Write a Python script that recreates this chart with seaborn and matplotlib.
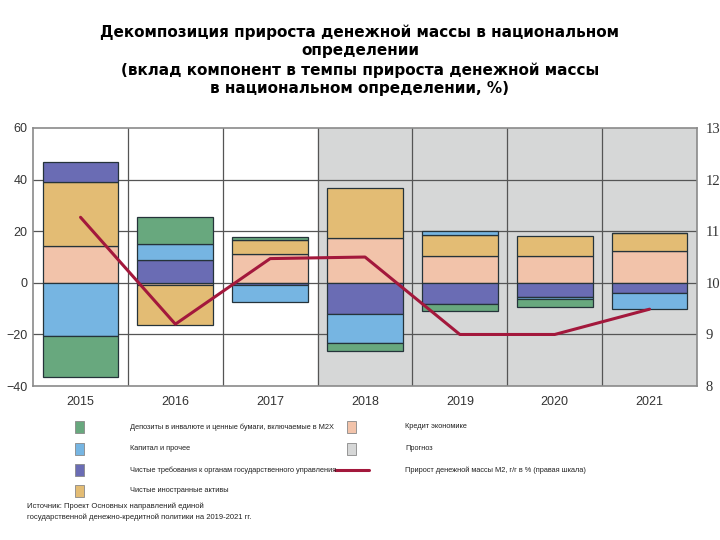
import numpy as np
import pandas as pd
import seaborn as sns
import matplotlib.pyplot as plt
from matplotlib.patches import Rectangle
from matplotlib.lines import Line2D

sns.set_theme(style='white')
plt.rcParams['font.family'] = ['Liberation Sans', 'DejaVu Sans']

years = ['2015', '2016', '2017', '2018', '2019', '2020', '2021']
forecast_from = '2018'

# components, stacked in this order
credit = [14.2, -0.9, 11.2, 17.4, 10.5, 10.5, 12.4]     # Кредит экономике
nfa = [24.8, -15.6, 5.3, 19.4, 8.1, 7.7, 7.0]           # Чистые иностранные активы
gov = [8.0, 8.9, -0.9, -12.0, -8.1, -5.5, -4.0]         # Чистые требования к органам гос. управления
capital = [-20.6, 6.2, -6.5, -11.2, 1.3, -0.8, -6.2]    # Капитал и прочее
deposits = [-15.8, 10.3, 1.2, -3.3, -2.7, -3.1, 0.0]    # Депозиты в инвалюте ...
m2_growth = [11.27, 9.2, 10.47, 10.5, 9.0, 9.0, 9.49]   # Прирост M2, % (правая шкала)

components = [
    ('Кредит экономике', credit, '#f2c3aa'),
    ('Чистые иностранные активы', nfa, '#e3bc74'),
    ('Чистые требования к органам государственного управления', gov, '#6a6cb4'),
    ('Капитал и прочее', capital, '#76b5e2'),
    ('Депозиты в инвалюте и ценные бумаги, включаемые в М2Х', deposits, '#68a87e'),
]
line_color = '#a3183c'
grid_color = '#555555'
shade_color = '#d6d7d7'

fig = plt.figure(figsize=(7.2, 5.4), dpi=100)
ax = fig.add_axes([0.046, 0.285, 0.922, 0.478])

# forecast shading
idx0 = years.index(forecast_from)
ax.axvspan(idx0 - 0.5, len(years) - 0.5, color=shade_color, zorder=0)

pos_bottom = np.zeros(len(years))
neg_bottom = np.zeros(len(years))
for name, vals, color in components:
    vals = np.array(vals)
    bottom = np.where(vals >= 0, pos_bottom, neg_bottom)
    sns.barplot(x=years, y=vals, bottom=bottom, color=color, width=0.8,
                edgecolor='#25333a', linewidth=0.9, saturation=1, ax=ax, zorder=3)
    pos_bottom += np.where(vals >= 0, vals, 0)
    neg_bottom += np.where(vals < 0, vals, 0)

ax.set_xlim(-0.5, len(years) - 0.5)
ax.set_ylim(-40, 60)
ax.set_yticks(np.arange(-40, 61, 20))
for yv in np.arange(-20, 60, 20):
    ax.axhline(yv, color=grid_color, lw=0.9, zorder=1)
for i in range(1, len(years)):
    ax.axvline(i - 0.5, color=grid_color, lw=0.9, zorder=1)
for s in ax.spines.values():
    s.set_color('#8a8a8a')
    s.set_linewidth(1.2)
ax.tick_params(axis='both', length=0, labelsize=9, colors='#333333')
ax.tick_params(axis='x', pad=7)
ax.tick_params(axis='y', pad=4)
ax.set_xlabel('')

ax2 = ax.twinx()
sns.lineplot(x=np.arange(len(years)), y=m2_growth, color=line_color, lw=2.2, ax=ax2, zorder=5)
ax2.set_ylim(8, 13)
ax2.set_yticks(np.arange(8, 14, 1))
ax2.tick_params(axis='y', length=0, labelsize=10.5, colors='#333333', pad=6)
for lab in ax2.get_yticklabels():
    lab.set_family('Liberation Serif')
for s in ax2.spines.values():
    s.set_visible(False)

fig.text(0.5, 0.955, 'Декомпозиция прироста денежной массы в национальном\nопределении\n'
         '(вклад компонент в темпы прироста денежной массы\nв национальном определении, %)',
         ha='center', va='top', fontsize=11, fontweight='bold', family='DejaVu Sans',
         linespacing=1.3, color='black')

# legend (hand-laid like the original)
legend_left = [
    ('Депозиты в инвалюте и ценные бумаги, включаемые в М2Х', components[4][2]),
    ('Капитал и прочее', components[3][2]),
    ('Чистые требования к органам государственного управления', components[2][2]),
    ('Чистые иностранные активы', components[1][2]),
]
legend_right = [
    ('Кредит экономике', components[0][2]),
    ('Прогноз', shade_color),
]
row_y = [1 - 427 / 540, 1 - 449 / 540, 1 - 470 / 540, 1 - 491 / 540]
fs_leg = 5.3
for (label, color), yy in zip(legend_left, row_y):
    fig.patches.append(Rectangle((75 / 720, yy - 0.0105), 0.0125, 0.021, transform=fig.transFigure,
                                 facecolor=color, edgecolor='#888888', lw=0.6))
    fig.text(130 / 720, yy, label, fontsize=fs_leg, va='center', color='#222222')
for (label, color), yy in zip(legend_right, row_y):
    fig.patches.append(Rectangle((347 / 720, yy - 0.0105), 0.0125, 0.021, transform=fig.transFigure,
                                 facecolor=color, edgecolor='#888888', lw=0.6))
    fig.text(405 / 720, yy, label, fontsize=fs_leg, va='center', color='#222222')
fig.lines.append(Line2D([335 / 720, 369 / 720], [row_y[2], row_y[2]], transform=fig.transFigure,
                        color=line_color, lw=2.2))
fig.text(405 / 720, row_y[2], 'Прирост денежной массы М2, г/г в % (правая шкала)',
         fontsize=fs_leg, va='center', color='#222222')

fig.text(27 / 720, 1 - 512 / 540,
         'Источник: Проект Основных направлений единой\n'
         'государственной денежно-кредитной политики на 2019-2021 гг.',
         fontsize=5.5, va='center', color='#222222', linespacing=1.6)

fig.savefig('out.png', dpi=100, facecolor='white')
